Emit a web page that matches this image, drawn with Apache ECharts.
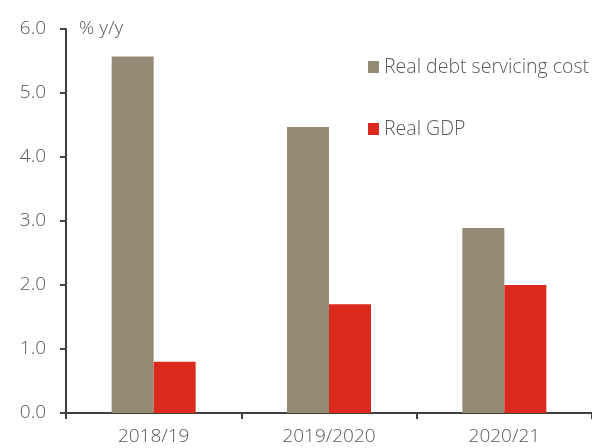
<!DOCTYPE html>
<html>
<head>
<meta charset="utf-8">
<script src="https://cdn.jsdelivr.net/npm/echarts@6/dist/echarts.min.js"></script>
<style>
  html, body { margin: 0; padding: 0; background: #fff; }
  #chart { width: 592px; height: 448px; }
</style>
</head>
<body>
<div id="chart"></div>
<script>
// Fiscal years on the category axis
const categories = ['2018/19', '2019/2020', '2020/21'];
// Annual growth rates, % y/y
const realDebtServicingCost = [5.57, 4.47, 2.89];
const realGDP = [0.8, 1.7, 2.0];
// Value axis tick range
const yMin = 0, yMax = 6, yStep = 1;

const textColor = '#595959';
const axisColor = '#404040';
const fontFamily = '"Open Sans", sans-serif';
const fontSize = 19;

const chart = echarts.init(document.getElementById('chart'), null, { renderer: 'canvas' });
chart.setOption({
  animation: false,
  textStyle: { fontFamily: fontFamily },
  grid: { left: 66, right: -6, top: 29, bottom: 35, containLabel: false },
  legend: {
    orient: 'vertical',
    left: 363,
    top: 52,
    itemWidth: 11,
    itemHeight: 12,
    itemGap: 42,
    icon: 'rect',
    textStyle: { color: textColor, fontSize: 19.5, lineHeight: 20, fontWeight: 300, fontFamily: fontFamily },
    data: ['Real debt servicing cost', 'Real GDP']
  },
  xAxis: {
    type: 'category',
    data: categories,
    axisLine: { lineStyle: { color: axisColor, width: 2 } },
    axisTick: { show: true, alignWithLabel: false, length: 6, lineStyle: { color: axisColor, width: 2 } },
    axisLabel: { color: textColor, fontSize: fontSize, fontWeight: 300, margin: 14 }
  },
  yAxis: {
    type: 'value',
    min: yMin,
    max: yMax,
    interval: yStep,
    name: '% y/y',
    nameLocation: 'end',
    nameGap: 0,
    nameTextStyle: { color: textColor, fontSize: fontSize, fontWeight: 300, align: 'left', verticalAlign: 'middle', padding: [0, 0, 6, 13] },
    splitLine: { show: false },
    axisLine: { show: true, lineStyle: { color: axisColor, width: 2 } },
    axisTick: { show: true, inside: false, length: 6, lineStyle: { color: axisColor, width: 2 } },
    axisLabel: {
      color: textColor, fontSize: fontSize, fontWeight: 300, margin: 20,
      formatter: v => v.toFixed(1)
    }
  },
  series: [
    {
      name: 'Real debt servicing cost',
      type: 'bar',
      data: realDebtServicingCost,
      barWidth: 42,
      barGap: '0%',
      itemStyle: { color: '#958b75' }
    },
    {
      name: 'Real GDP',
      type: 'bar',
      data: realGDP,
      barWidth: 42,
      barGap: '0%',
      itemStyle: { color: '#dc291e' }
    }
  ]
});
</script>
</body>
</html>
